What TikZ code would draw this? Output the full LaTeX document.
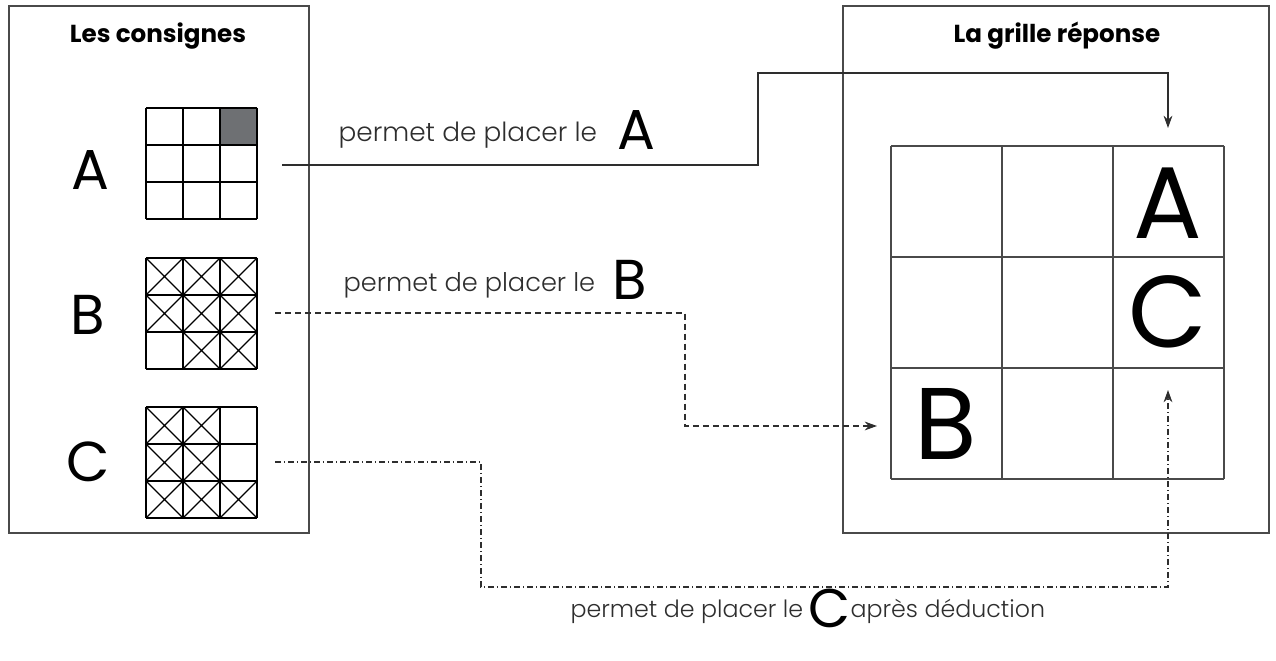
\documentclass[tikz,border=0pt]{standalone}
\usepackage{fontspec}
\setsansfont{Poppins}
\newfontfamily\thinfont{Poppins}[UprightFont=* Light]
\usetikzlibrary{arrows.meta, positioning, calc}
\definecolor{frameline}{HTML}{4A4A4A}
\definecolor{cellgray}{HTML}{6E7073}
\definecolor{textgray}{HTML}{2E2E2E}

\tikzset{
  boxtitle/.style={font=\sffamily\bfseries\fontsize{14}{16}\selectfont},
  sideletter/.style={font=\sffamily\fontsize{32}{36}\selectfont},
  gridletter/.style={font=\sffamily\fontsize{58}{62}\selectfont},
  linktext/.style={font=\thinfont\fontsize{15}{17}\selectfont, text=textgray, inner sep=0pt},
  linkletter/.style={font=\sffamily\fontsize{32}{36}\selectfont, inner sep=0pt},
  linkarrow/.style={-{Stealth[length=7pt, width=5pt]}, line width=0.6pt, textgray},
  dashdot/.style={dash pattern=on 3.4pt off 1.7pt on 0.6pt off 1.7pt}
}

\begin{document}
\begin{tikzpicture}[x=0.02cm, y=-0.02cm, line width=0.7pt]
  \useasboundingbox (0,0) rectangle (1276,661);

  % Left box : the rules
  \draw[frameline] (9,6) rectangle (309,533);
  \node[boxtitle] (consignes) at (158,36) {Les consignes};
  \node[sideletter] (lA) at (90,170) {A};
  \node[sideletter] (lB) at (88,315) {B};
  \node[sideletter] (lC) at (88,462) {C};

  % Small grid A (one shaded cell)
  \fill[cellgray] (220,108) rectangle (257,145);
  \foreach \i in {0,...,3} {
    \draw (146+37*\i,108) -- (146+37*\i,219);
    \draw (146,108+37*\i) -- (257,108+37*\i);
  }

  % Small grid B (crossed cells)
  \foreach \i in {0,...,3} {
    \draw (146+37*\i,258) -- (146+37*\i,369);
    \draw (146,258+37*\i) -- (257,258+37*\i);
  }
  \foreach \c/\r in {0/0,1/0,2/0,0/1,1/1,2/1,1/2,2/2}
    \draw (146+37*\c,258+37*\r) -- ++(37,37) ++(-37,0) -- ++(37,-37);

  % Small grid C (crossed cells)
  \foreach \i in {0,...,3} {
    \draw (146+37*\i,407) -- (146+37*\i,518);
    \draw (146,407+37*\i) -- (257,407+37*\i);
  }
  \foreach \c/\r in {0/0,1/0,0/1,1/1,0/2,1/2,2/2}
    \draw (146+37*\c,407+37*\r) -- ++(37,37) ++(-37,0) -- ++(37,-37);

  % Right box : the answer grid
  \draw[frameline] (843,6) rectangle (1269,533);
  \node[boxtitle] (reponse) at (1057,36) {La grille réponse};
  \foreach \i in {0,...,3} {
    \draw[frameline] (891+111*\i,146) -- (891+111*\i,479);
    \draw[frameline] (891,146+111*\i) -- (1224,146+111*\i);
  }
  \node[gridletter] (gA) at (1168,203) {A};
  \node[gridletter] (gC) at (1168,312) {C};
  \node[gridletter] (gB) at (946,424) {B};

  % Connector ends
  \coordinate (outA) at (282,165);
  \coordinate (outB) at (275,313);
  \coordinate (outC) at (275,462);
  \coordinate (bendA) at (758,73);
  \coordinate (bendB) at (685,426);
  \coordinate (bendC) at (481,587);
  \coordinate (tipA) at (1168,128);
  \coordinate (tipB) at (877,426);
  \coordinate (tipC) at (1168,390);

  % Connectors
  \draw[linkarrow] (outA) -| (bendA) -| (tipA);
  \draw[linkarrow, dashed, dash pattern=on 3.4pt off 2.3pt] (outB) -| (bendB) -- (tipB);
  \draw[linkarrow, dashdot] (outC) -| (bendC) -| (tipC);

  % Labels
  \node[linktext, anchor=base west] (txtA) at (338,142) {permet de placer le};
  \node[linkletter, anchor=base west] (letA) at (617,150) {A};
  \node[linktext, anchor=base west, font=\thinfont\fontsize{14.6}{17}\selectfont] (txtB) at (343,292) {permet de placer le};
  \node[linkletter, anchor=base west] (letB) at (612,300) {B};
  \node[linktext, anchor=base west, font=\thinfont\fontsize{13.5}{16}\selectfont] (txtC) at (570,618) {permet de placer le};
  \node[linkletter, anchor=base west, font=\sffamily\fontsize{31}{34}\selectfont] (letC) at (808,628) {C};
  \node[linktext, anchor=base west, font=\thinfont\fontsize{13.5}{16}\selectfont] (txtC2) at (850,618) {après déduction};
\end{tikzpicture}
\end{document}
